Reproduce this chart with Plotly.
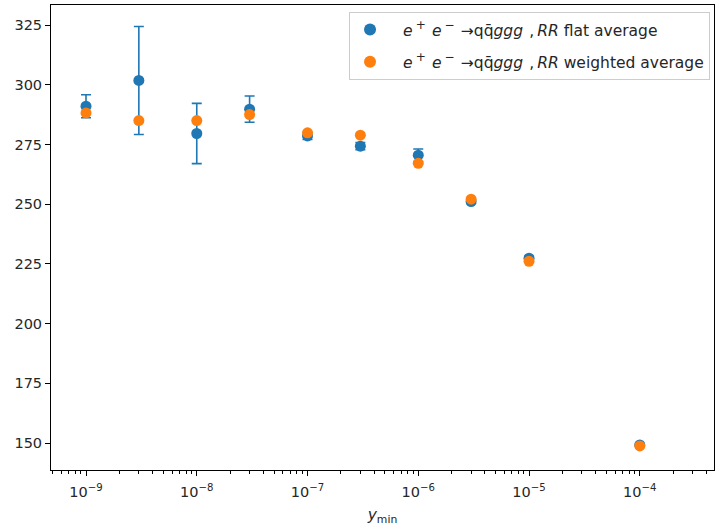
import plotly.graph_objects as go

ymin_vals = [1e-9, 3e-9, 1e-8, 3e-8, 1e-7, 3e-7, 1e-6, 3e-6, 1e-5, 1e-4]
flat_avg = [291.0, 301.8, 279.6, 289.8, 278.6, 274.3, 270.5, 251.1, 227.4, 149.2]
flat_err = [4.8, 22.6, 12.6, 5.5, 1.5, 1.5, 2.6, 0.8, 0.8, 0.3]
weighted_avg = [288.2, 285.0, 285.0, 287.5, 279.9, 278.9, 267.1, 252.1, 226.1, 148.8]

major_ticks = [1e-9, 1e-8, 1e-7, 1e-6, 1e-5, 1e-4]
major_text = ["10<sup>−9</sup>", "10<sup>−8</sup>", "10<sup>−7</sup>", "10<sup>−6</sup>",
              "10<sup>−5</sup>", "10<sup>−4</sup>"]
minor_ticks = [m * 10.0 ** k for k in range(-10, -3) for m in range(2, 10)]
y_ticks = [150, 175, 200, 225, 250, 275, 300, 325]

sup = '<sup><span style="font-size:12px">{}</span></sup>'
proc = ("\u00a0\u00a0\u2009<i>e</i>\u2009" + sup.format("+") + "\u2009\u2009<i>e</i>\u2009"
        + sup.format("−") + "\u2009\u2009→qq̄<i>ggg</i>\u2009\u2009,\u2009<i>RR</i>")

fig = go.Figure()
fig.add_trace(go.Scatter(
    x=ymin_vals, y=flat_avg, mode="markers",
    name=proc + " flat average", legendgroup="flat",
    marker=dict(color="#1f77b4", size=11),
    error_y=dict(type="data", array=flat_err, visible=True, color="#1f77b4",
                 thickness=1.6, width=5),
))
fig.add_trace(go.Scatter(
    x=ymin_vals, y=weighted_avg, mode="markers",
    name=proc + " weighted average", legendgroup="weighted",
    marker=dict(color="#ff7f0e", size=11),
))

axis_common = dict(showline=True, linecolor="black", linewidth=1, mirror=True,
                   ticks="outside", tickcolor="black", ticklen=5, tickwidth=1,
                   showgrid=False, zeroline=False, automargin=False,
                   tickfont=dict(family="DejaVu Sans", size=14.5, color="#262626"))

fig.update_xaxes(type="log", range=[-9.316, -3.33],
                 tickmode="array", tickvals=major_ticks, ticktext=major_text,
                 ticklabelstandoff=4,
                 minor=dict(tickmode="array", tickvals=minor_ticks, ticks="outside",
                            ticklen=3, tickcolor="black", tickwidth=0.8, showgrid=False),
                 title=dict(text="<i>y</i><sub>min</sub>",
                            font=dict(family="DejaVu Sans", size=15.5, color="#262626"),
                            standoff=12),
                 **axis_common)
fig.update_yaxes(range=[138.7, 333.4], tickmode="array", tickvals=y_ticks,
                 **axis_common)

fig.update_layout(
    width=718, height=526,
    margin=dict(l=51, r=4, t=5, b=56),
    paper_bgcolor="white", plot_bgcolor="white",
    font=dict(family="DejaVu Sans", size=14.5, color="#262626"),
    showlegend=True,
    legend=dict(x=0.4495, y=0.985, xanchor="left", yanchor="top",
                bgcolor="rgba(255,255,255,0.8)", bordercolor="#cccccc", borderwidth=1,
                font=dict(family="DejaVu Sans", size=15.5, color="#262626"),
                tracegroupgap=9, itemsizing="constant"),
)

fig.write_html("out.html", config={"displayModeBar": False},
               post_script="document.body.style.margin='0';")
